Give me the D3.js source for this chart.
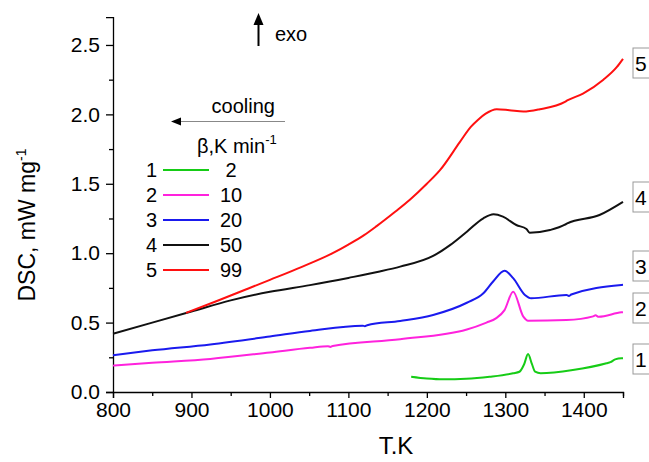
<!DOCTYPE html>
<html><head><meta charset="utf-8">
<script src="https://cdn.jsdelivr.net/npm/d3@7"></script>
<style>
body{margin:0;background:#fff;}
text{font-family:"Liberation Sans",Arial,sans-serif;fill:#000;}
</style></head>
<body>
<svg id="chart" width="649" height="462"></svg>
<script>
// ---- data ----
const s1T = [1180,1200,1221,1250,1280,1310,1318,1324,1329,1334,1338,1345,1386,1429,1434,1440,1448,1450];
const s1V = [0.110,0.097,0.091,0.095,0.110,0.135,0.146,0.200,0.274,0.200,0.146,0.135,0.158,0.207,0.215,0.235,0.243,0.243];
const s2T = [800,850,924,1000,1051,1074,1077,1080,1166,1251,1276,1288,1299,1310,1323,1329,1378,1412,1415,1419,1448,1450];
const s2V = [0.190,0.210,0.238,0.285,0.318,0.330,0.325,0.332,0.380,0.450,0.500,0.530,0.590,0.723,0.543,0.514,0.519,0.545,0.552,0.542,0.574,0.575];
const s3T = [800,850,924,1000,1051,1118,1121,1124,1166,1208,1251,1272,1285,1299,1310,1325,1333,1378,1381,1384,1448,1450];
const s3V = [0.265,0.300,0.343,0.400,0.440,0.478,0.474,0.481,0.512,0.555,0.643,0.711,0.800,0.874,0.820,0.699,0.675,0.699,0.692,0.702,0.771,0.772];
const s4T = [800,850,900,950,1000,1051,1100,1140,1166,1208,1230,1251,1272,1285,1297,1314,1327,1331,1357,1376,1379,1420,1450];
const s4V = [0.420,0.500,0.580,0.660,0.722,0.770,0.822,0.868,0.903,0.980,1.060,1.155,1.251,1.280,1.263,1.203,1.174,1.148,1.167,1.205,1.215,1.275,1.370];
const s5T = [893,930,970,1000,1040,1080,1100,1120,1136,1160,1178,1200,1217,1242,1256,1265,1275,1289,1305,1323,1344,1376,1379,1399,1425,1442,1450];
const s5V = [0.570,0.650,0.740,0.808,0.900,1.000,1.062,1.130,1.195,1.300,1.383,1.500,1.600,1.800,1.910,1.960,2.005,2.037,2.030,2.020,2.037,2.090,2.100,2.150,2.250,2.340,2.400];

const seriesIds = ["1","2","3","4","5"];
const seriesRates = ["2","10","20","50","99"];
const seriesColors = ["#16cc16","#ff22dd","#1a1aee","#111111","#ff1010"];
const seriesT = [s1T,s2T,s3T,s4T,s5T];
const seriesV = [s1V,s2V,s3V,s4V,s5V];

const xTicks = [800,900,1000,1100,1200,1300,1400];
const xMinor = [850,950,1050,1150,1250,1350,1450];
const yTicks = [0,0.5,1.0,1.5,2.0,2.5];
const yMinor = [0.25,0.75,1.25,1.75,2.25];

// ---- chart ----
const svg = d3.select("#chart");
const x = d3.scaleLinear().domain([800,1450]).range([113,623]);
const y = d3.scaleLinear().domain([0,2.7]).range([392,17.2]);

const fmt = d3.format(".1f");
// x axis
const gx = svg.append("g").attr("transform","translate(0,392)");
gx.call(d3.axisBottom(x).tickValues(xTicks).tickSize(6).tickPadding(4).tickFormat(d3.format("d")));
const gxm = gx.append("g").call(d3.axisBottom(x).tickValues(xMinor).tickSize(4).tickFormat(""));
gxm.select(".domain").remove();
// y axis
const gy = svg.append("g").attr("transform","translate(113,0)");
gy.call(d3.axisLeft(y).tickValues(yTicks).tickSize(7).tickPadding(6).tickFormat(fmt));
const gym = gy.append("g").call(d3.axisLeft(y).tickValues(yMinor).tickSize(4).tickFormat(""));
gym.select(".domain").remove();
svg.selectAll(".domain").attr("stroke","#000").attr("stroke-width",1.3);
svg.selectAll(".tick line").attr("stroke","#000").attr("stroke-width",1.3);
svg.selectAll(".tick text").style("font-size","21px").style("font-family","'Liberation Sans',Arial,sans-serif").attr("fill","#111");

// titles
svg.append("text").attr("x",396).attr("y",454).attr("text-anchor","middle").style("font-size","24px").text("T.K");
const yt = svg.append("text").attr("transform","translate(27,225) rotate(-90)").attr("text-anchor","middle").attr("dy","0.35em").style("font-size","23px");
yt.append("tspan").text("DSC, mW mg");
yt.append("tspan").attr("dy",-9).style("font-size","14px").text("-1");

// lines
const line = d3.line().x(d=>x(d[0])).y(d=>y(d[1])).curve(d3.curveMonotoneX);
seriesT.forEach((T,i)=>{
  const pts = T.map((t,j)=>[t,seriesV[i][j]]);
  svg.append("path").datum(pts).attr("d",line).attr("fill","none")
    .attr("stroke",seriesColors[i]).attr("stroke-width",2).attr("stroke-linejoin","round");
});

// end labels in boxes
const boxCenters = [359,308,266,197,63];
seriesIds.forEach((id,i)=>{
  const cy = boxCenters[i];
  svg.append("rect").attr("x",633).attr("y",cy-15).attr("width",18).attr("height",30)
    .attr("fill","#fff").attr("stroke","#999").attr("stroke-width",1);
  svg.append("text").attr("x",635).attr("y",cy+7.5).style("font-size","21px").text(id);
});

// legend
svg.append("text").attr("x",275).attr("y",113).attr("text-anchor","end").style("font-size","20px").text("cooling");
svg.append("line").attr("x1",180).attr("x2",285).attr("y1",121.5).attr("y2",121.5).attr("stroke","#888").attr("stroke-width",1.2);
svg.append("path").attr("d","M171,121.5 L181,117.5 L181,125.5 Z").attr("fill","#000");
const bt = svg.append("text").attr("x",197).attr("y",153).style("font-size","20px");
bt.append("tspan").text("\u03B2,K min");
bt.append("tspan").attr("dy",-9).style("font-size","13px").text("-1");

const legY = [170,195,220,245,270];
seriesIds.forEach((id,i)=>{
  const ly = legY[i];
  svg.append("text").attr("x",157).attr("y",ly+7).attr("text-anchor","end").style("font-size","20px").text(id);
  svg.append("line").attr("x1",163).attr("x2",209).attr("y1",ly).attr("y2",ly).attr("stroke",seriesColors[i]).attr("stroke-width",2);
  svg.append("text").attr("x",231).attr("y",ly+7).attr("text-anchor","middle").style("font-size","20px").text(seriesRates[i]);
});

// exo arrow
svg.append("line").attr("x1",258.5).attr("x2",258.5).attr("y1",46).attr("y2",22).attr("stroke","#000").attr("stroke-width",2);
svg.append("path").attr("d","M258.5,13 L253.5,25 L263.5,25 Z").attr("fill","#000");
svg.append("text").attr("x",275).attr("y",41).style("font-size","20px").text("exo");
</script>
</body></html>
